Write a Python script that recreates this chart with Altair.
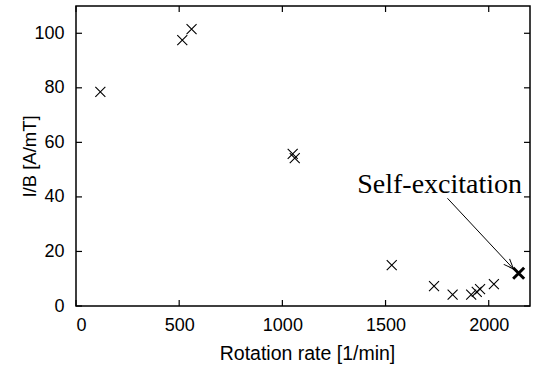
import math
import altair as alt
import pandas as pd

# Data
rotation = [118, 515, 560, 1050, 1060, 1530, 1735, 1825, 1915, 1942, 1958, 2025]
ib_ratio = [78.5, 97.5, 101.5, 55.8, 54.2, 15.0, 7.3, 4.2, 4.2, 5.2, 6.2, 8.0]
self_x = [2145]
self_y = [12.0]
x_ticks = [0, 500, 1000, 1500, 2000]
y_ticks = [0, 20, 40, 60, 80, 100]
arrow_start = (1800, 39.5)
arrow_end = (2120, 13.6)
label_text = ["Self-excitation"]
label_pos = (1762, 41.5)

W, H = 454, 300
XMAX, YMAX = 2200, 110

df = pd.DataFrame({"x": rotation, "y": ib_ratio})
df_self = pd.DataFrame({"x": self_x, "y": self_y})
df_arrow = pd.DataFrame({"x": [arrow_start[0]], "y": [arrow_start[1]],
                         "x2": [arrow_end[0]], "y2": [arrow_end[1]]})
dx_px = (arrow_end[0] - arrow_start[0]) * W / XMAX
dy_px = (arrow_start[1] - arrow_end[1]) * H / YMAX
ang = math.degrees(math.atan2(dy_px, dx_px))
df_head = pd.DataFrame({"x": [arrow_end[0]], "y": [arrow_end[1]]})
df_label = pd.DataFrame({"x": [label_pos[0]], "y": [label_pos[1]], "t": label_text})
df_xt = pd.DataFrame({"x": x_ticks})
df_yt = pd.DataFrame({"y": y_ticks})

xs = alt.Scale(domain=[0, XMAX], nice=False, zero=False)
ys = alt.Scale(domain=[0, YMAX], nice=False, zero=False)

xaxis = alt.Axis(values=x_ticks, format="d", ticks=False, tickSize=0, domain=False, grid=False,
                 labelFont="Liberation Sans", labelFontSize=18, labelColor="black",
                 labelPadding=10, title="Rotation rate [1/min]",
                 titleFont="Liberation Sans", titleFontSize=19.5, titleFontWeight="normal",
                 titleColor="black", titleBaseline="alphabetic", titleY=53, titleX=W / 2 + 4)
yaxis = alt.Axis(values=y_ticks, format="d", ticks=False, tickSize=0, domain=False, grid=False,
                 labelFont="Liberation Sans", labelFontSize=18, labelColor="black",
                 labelPadding=12, title="I/B [A/mT]",
                 titleFont="Liberation Sans", titleFontSize=18.5, titleFontWeight="normal",
                 titleColor="black", titleBaseline="alphabetic", titleX=-41, titleY=H / 2,
                 titleAngle=-90, titleAlign="center")

X_SHAPE = "M-1,-1L1,1M-1,1L1,-1"
HEAD = "M-2,-0.8L0,0L-2,0.8"

pts = alt.Chart(df).mark_point(shape=X_SHAPE, size=100, filled=False, color="black",
                               strokeWidth=1.1, opacity=1).encode(
    x=alt.X("x:Q", scale=xs, axis=xaxis),
    y=alt.Y("y:Q", scale=ys, axis=yaxis))

selfpt = alt.Chart(df_self).mark_point(shape=X_SHAPE, size=121, filled=False, color="black",
                                       strokeWidth=3, opacity=1).encode(
    x=alt.X("x:Q", scale=xs), y=alt.Y("y:Q", scale=ys))

arrow = alt.Chart(df_arrow).mark_rule(color="black", strokeWidth=1).encode(
    x=alt.X("x:Q", scale=xs), y=alt.Y("y:Q", scale=ys), x2="x2:Q", y2="y2:Q")

head = alt.Chart(df_head).mark_point(shape=HEAD, size=100, filled=False, color="black",
                                     strokeWidth=1, opacity=1, angle=ang).encode(
    x=alt.X("x:Q", scale=xs), y=alt.Y("y:Q", scale=ys))

label = alt.Chart(df_label).mark_text(font="Liberation Serif", fontSize=28, color="black",
                                      align="center", baseline="alphabetic").encode(
    x=alt.X("x:Q", scale=xs), y=alt.Y("y:Q", scale=ys), text="t:N")

TL = 6
xt_bottom = alt.Chart(df_xt).mark_rule(color="black", strokeWidth=1.2).encode(
    x=alt.X("x:Q", scale=xs), y=alt.value(H), y2=alt.value(H - TL))
xt_top = alt.Chart(df_xt).mark_rule(color="black", strokeWidth=1.2).encode(
    x=alt.X("x:Q", scale=xs), y=alt.value(0), y2=alt.value(TL))
yt_left = alt.Chart(df_yt).mark_rule(color="black", strokeWidth=1.2).encode(
    y=alt.Y("y:Q", scale=ys), x=alt.value(0), x2=alt.value(TL))
yt_right = alt.Chart(df_yt).mark_rule(color="black", strokeWidth=1.2).encode(
    y=alt.Y("y:Q", scale=ys), x=alt.value(W), x2=alt.value(W - TL))

chart = alt.layer(pts, xt_bottom, xt_top, yt_left, yt_right, arrow, head, selfpt, label).properties(
    width=W, height=H,
    autosize=alt.AutoSizeParams(type="none"),
    padding={"left": 76, "top": 6, "right": 6, "bottom": 60},
    background="white",
).configure_view(stroke="black", strokeWidth=1.5)

chart.save("out.html", embed_options={"renderer": "svg", "actions": False})
